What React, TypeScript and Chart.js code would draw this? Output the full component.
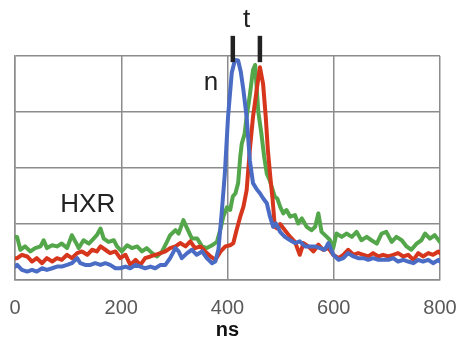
import React, { useEffect, useRef } from "react";
import { Chart, registerables } from "chart.js";

Chart.register(...registerables);

const xTicks = [0, 200, 400, 600, 800];

const blueNs = [0, 4, 13, 23, 32, 41, 51, 60, 70, 79, 88, 98, 107, 117, 123, 132, 142, 151, 161, 170, 179, 189, 198, 208, 217, 227, 236, 245, 255, 264, 274, 283, 292, 302, 308, 314, 324, 333, 342, 352, 361, 371, 377, 383, 389, 395, 401, 408, 414, 420, 425, 430, 436, 442, 448, 455, 461, 467, 474, 480, 486, 491, 496, 499, 508, 518, 527, 536, 546, 555, 565, 574, 583, 590, 599, 609, 618, 627, 637, 646, 656, 665, 674, 684, 693, 703, 712, 721, 731, 740, 750, 759, 768, 778, 787, 797, 800];
const blueVal = [0.24, 0.27, 0.18, 0.15, 0.18, 0.15, 0.21, 0.18, 0.21, 0.24, 0.24, 0.27, 0.30, 0.39, 0.30, 0.27, 0.27, 0.30, 0.27, 0.30, 0.27, 0.21, 0.21, 0.24, 0.21, 0.27, 0.24, 0.21, 0.24, 0.21, 0.27, 0.27, 0.39, 0.57, 0.51, 0.39, 0.48, 0.54, 0.45, 0.51, 0.39, 0.30, 0.33, 0.55, 1.19, 1.90, 2.91, 3.70, 3.93, 3.92, 3.72, 3.39, 2.91, 2.14, 1.73, 1.62, 1.55, 1.46, 1.37, 1.13, 0.95, 1.01, 0.92, 0.86, 0.77, 0.71, 0.66, 0.69, 0.60, 0.60, 0.60, 0.57, 0.54, 0.66, 0.45, 0.36, 0.39, 0.48, 0.42, 0.39, 0.39, 0.36, 0.39, 0.36, 0.36, 0.36, 0.39, 0.33, 0.36, 0.33, 0.30, 0.36, 0.33, 0.36, 0.30, 0.36, 0.33];

const redNs = [0, 4, 13, 23, 32, 41, 51, 60, 70, 79, 88, 98, 107, 117, 126, 136, 145, 154, 161, 170, 179, 189, 198, 208, 217, 227, 236, 245, 255, 264, 274, 283, 292, 302, 311, 321, 330, 339, 349, 358, 368, 377, 387, 396, 405, 411, 417, 424, 430, 436, 442, 448, 455, 461, 467, 472, 476, 481, 485, 489, 494, 499, 508, 518, 527, 536, 543, 552, 562, 571, 580, 590, 599, 609, 618, 627, 637, 646, 656, 665, 674, 684, 693, 703, 712, 721, 731, 740, 750, 759, 768, 778, 787, 797, 800];
const redVal = [0.39, 0.39, 0.45, 0.42, 0.33, 0.39, 0.30, 0.39, 0.33, 0.39, 0.36, 0.45, 0.39, 0.48, 0.51, 0.45, 0.54, 0.51, 0.60, 0.54, 0.48, 0.51, 0.39, 0.45, 0.27, 0.36, 0.27, 0.39, 0.42, 0.45, 0.48, 0.51, 0.57, 0.60, 0.66, 0.60, 0.69, 0.57, 0.60, 0.51, 0.42, 0.36, 0.51, 0.60, 0.62, 0.66, 0.89, 1.13, 1.31, 1.60, 2.32, 2.91, 3.40, 3.80, 3.50, 2.91, 2.32, 1.80, 1.43, 0.95, 0.92, 1.00, 0.89, 0.77, 0.68, 0.45, 0.66, 0.60, 0.51, 0.63, 0.54, 0.57, 0.45, 0.39, 0.45, 0.54, 0.45, 0.48, 0.45, 0.42, 0.48, 0.42, 0.45, 0.42, 0.45, 0.48, 0.42, 0.45, 0.36, 0.48, 0.42, 0.48, 0.45, 0.51, 0.48];

const greenNs = [0, 4, 10, 19, 29, 38, 48, 54, 60, 70, 79, 88, 98, 107, 114, 120, 129, 139, 148, 154, 161, 167, 176, 186, 192, 201, 211, 220, 230, 239, 248, 258, 267, 277, 286, 292, 302, 308, 317, 324, 333, 343, 352, 361, 371, 380, 387, 392, 399, 405, 410, 415, 420, 424, 427, 432, 436, 442, 448, 452, 458, 464, 469, 474, 479, 483, 489, 494, 499, 505, 511, 518, 527, 533, 540, 549, 558, 565, 571, 577, 587, 593, 599, 605, 615, 624, 634, 643, 652, 662, 671, 681, 690, 699, 709, 718, 728, 737, 746, 756, 765, 772, 781, 790, 800];
const greenVal = [0.77, 0.77, 0.54, 0.60, 0.51, 0.57, 0.60, 0.71, 0.57, 0.62, 0.60, 0.65, 0.57, 0.80, 0.68, 0.57, 0.71, 0.65, 0.74, 0.80, 0.92, 0.74, 0.68, 0.71, 0.60, 0.51, 0.62, 0.57, 0.60, 0.51, 0.57, 0.48, 0.42, 0.51, 0.68, 0.80, 0.89, 0.83, 1.07, 0.92, 0.74, 0.74, 0.60, 0.57, 0.62, 0.68, 0.92, 1.13, 1.30, 1.25, 1.49, 1.55, 1.73, 2.20, 2.44, 2.60, 2.91, 3.30, 3.75, 3.84, 3.00, 2.60, 2.20, 1.90, 1.79, 1.67, 1.49, 1.45, 1.31, 1.19, 1.25, 1.13, 1.16, 1.01, 1.10, 0.95, 0.89, 0.95, 1.19, 0.86, 0.77, 0.71, 0.57, 0.83, 0.77, 0.83, 0.77, 0.86, 0.71, 0.77, 0.71, 0.65, 0.83, 0.86, 0.68, 0.77, 0.71, 0.60, 0.54, 0.65, 0.71, 0.83, 0.74, 0.80, 0.68];

const markerNs = [410, 461];
const markerVal = [3.89, 4.36];

const labels = [
  { text: "t", ns: 436, val: 4.64 },
  { text: "n", ns: 369, val: 3.52 },
  { text: "HXR", ns: 137, val: 1.34 },
];

const pts = (xs: number[], ys: number[]) => xs.map((x, i) => ({ x, y: ys[i] }));

export default function App() {
  const ref = useRef<HTMLCanvasElement | null>(null);
  useEffect(() => {
    document.body.style.margin = "0";
    const ctx = ref.current!;
    const gridColor = "#8c8c8c";
    const lineDs = (data: any[], color: string, order: number) => ({
      data,
      borderColor: color,
      backgroundColor: color,
      borderWidth: 4,
      pointRadius: 0,
      tension: 0,
      borderJoinStyle: "round" as const,
      borderCapStyle: "round" as const,
      order,
    });
    const markerDs = (x: number) => ({
      data: [{ x, y: markerVal[0] }, { x, y: markerVal[1] }],
      borderColor: "#222222",
      borderWidth: 4.5,
      pointRadius: 0,
      clip: false as any,
      order: -1,
    });
    const textPlugin = {
      id: "texts",
      afterDatasetsDraw(chart: any) {
        const c = chart.ctx;
        const xs = chart.scales.x;
        const ys = chart.scales.y;
        c.save();
        c.fillStyle = "#222222";
        c.font = "26px 'Liberation Sans', Arial, sans-serif";
        c.textAlign = "center";
        c.textBaseline = "middle";
        for (const l of labels) {
          c.fillText(l.text, xs.getPixelForValue(l.ns), ys.getPixelForValue(l.val));
        }
        c.restore();
      },
    };
    const chart = new Chart(ctx, {
      type: "line",
      data: {
        datasets: [
          lineDs(pts(blueNs, blueVal), "#4a6cc4", 0),
          lineDs(pts(redNs, redVal), "#d6361c", 1),
          lineDs(pts(greenNs, greenVal), "#54a64a", 2),
          markerDs(markerNs[0]),
          markerDs(markerNs[1]),
        ] as any,
      },
      options: {
        animation: false,
        responsive: false,
        layout: { padding: { left: 15, right: 20, top: 56, bottom: 0 } },
        plugins: { legend: { display: false }, tooltip: { enabled: false } },
        scales: {
          x: {
            type: "linear",
            min: 0,
            max: 800,
            afterBuildTicks: (s: any) => {
              s.ticks = xTicks.map((v) => ({ value: v }));
            },
            afterFit: (s: any) => {
              s.height = 59;
            },
            grid: {
              color: gridColor,
              lineWidth: 1.5,
              drawTicks: true,
              tickLength: 16,
              tickColor: "rgba(0,0,0,0)",
            },
            border: { color: gridColor, width: 1.5 },
            ticks: {
              padding: 0,
              color: "#595959",
              font: { family: "'Liberation Sans', Arial, sans-serif", size: 20 },
              maxRotation: 0,
            },
            title: {
              display: true,
              text: "ns",
              color: "#111111",
              padding: { top: 0, bottom: -3 },
              font: { family: "'Liberation Sans', Arial, sans-serif", size: 20, weight: "bold" },
            },
          },
          y: {
            type: "linear",
            min: 0,
            max: 4,
            ticks: { display: false, stepSize: 1 },
            afterFit: (s: any) => {
              s.width = 0;
            },
            grid: { color: gridColor, lineWidth: 1.5, drawTicks: false },
            border: { color: gridColor, width: 1.5 },
          },
        },
      },
      plugins: [textPlugin],
    });
    return () => chart.destroy();
  }, []);
  return (
    <div style={{ width: 460, height: 339 }}>
      <canvas ref={ref} width={460} height={339} />
    </div>
  );
}
